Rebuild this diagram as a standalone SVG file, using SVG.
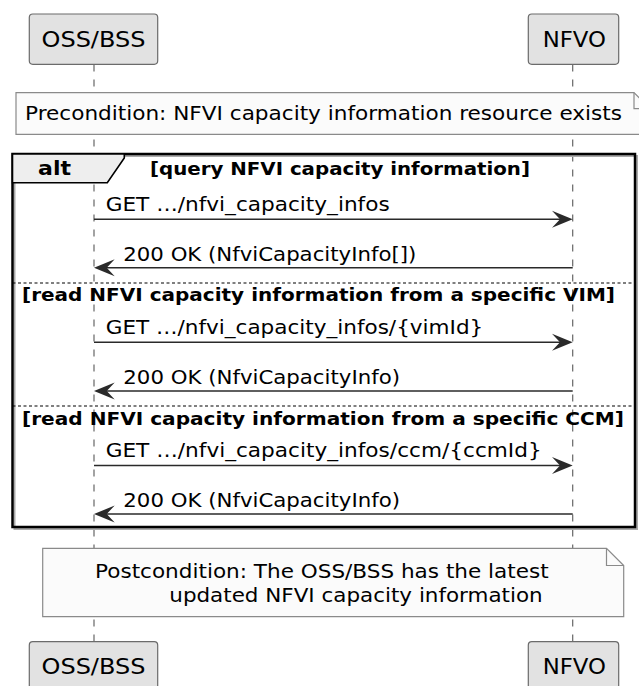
<svg xmlns="http://www.w3.org/2000/svg" width="639" height="686" viewBox="0 0 639 686">
<style>
text{font-family:"DejaVu Sans","Liberation Sans",sans-serif;fill:#000}
.pt{font-size:21.5px;text-anchor:middle}
.m{font-size:20px}
.g{font-size:18px;font-weight:bold}
.part{fill:#E2E2E2;stroke:#6b6b6b;stroke-width:1.2}
.ll{stroke:#666;stroke-width:1.2;stroke-dasharray:7,8;fill:none}
.note{fill:#FBFBFB;stroke:#8a8a8a;stroke-width:1.2}
.fold{fill:none;stroke:#8a8a8a;stroke-width:1.2}
.ln{stroke:#2a2a2a;stroke-width:1.6;fill:none}
.sep{stroke:#000;stroke-width:1.2;stroke-dasharray:3,2.5}
.ah{fill:#2a2a2a}
</style>
<g id="lifelines">
<line class="ll" x1="94" y1="64.5" x2="94" y2="641.5"/>
<line class="ll" x1="572.7" y1="64.5" x2="572.7" y2="641.5"/>
</g>
<g id="participant-oss-top">
<rect class="part" x="29.3" y="14" width="128.4" height="50.3" rx="3.5"/>
<text class="pt" x="93.5" y="46.7" textLength="104" lengthAdjust="spacingAndGlyphs">OSS/BSS</text>
</g>
<g id="participant-nfvo-top">
<rect class="part" x="528.3" y="14" width="90.4" height="50.3" rx="3.5"/>
<text class="pt" x="574.3" y="46.7" textLength="63.3" lengthAdjust="spacingAndGlyphs">NFVO</text>
</g>
<g id="note-precondition">
<path class="note" d="M16,92.7 H634 L650,108.7 V134.3 H16 Z"/>
<path class="fold" d="M634,92.7 V108.7 H650"/>
<text class="m" x="25" y="120" textLength="597" lengthAdjust="spacingAndGlyphs">Precondition: NFVI capacity information resource exists</text>
</g>
<g id="alt-fragment">
<rect x="14.5" y="156" width="622.5" height="373" fill="none" stroke="#aaa" stroke-width="2"/>
<rect x="12.5" y="154" width="622.5" height="373" fill="none" stroke="#000" stroke-width="2.5"/>
<path d="M12.5,154 H124.3 V158 L107.3,182.7 H12.5 Z" fill="#EEEEEE" stroke="#000" stroke-width="1.6"/>
<text class="g" x="38" y="175" textLength="33" lengthAdjust="spacingAndGlyphs" style="font-size:20px">alt</text>
<text class="g" x="150" y="175" textLength="380" lengthAdjust="spacingAndGlyphs">[query NFVI capacity information]</text>
<line class="sep" x1="12.5" y1="283" x2="635" y2="283"/>
<text class="g" x="22" y="301" textLength="593" lengthAdjust="spacingAndGlyphs">[read NFVI capacity information from a specific VIM]</text>
<line class="sep" x1="12.5" y1="406" x2="635" y2="406"/>
<text class="g" x="22" y="425" textLength="602" lengthAdjust="spacingAndGlyphs">[read NFVI capacity information from a specific CCM]</text>
</g>
<g id="messages">
<line class="ln" x1="94" y1="219.3" x2="566" y2="219.3"/>
<polygon class="ah" points="572.7,219.3 552,210.8 560,219.3 552,227.8"/>
<text class="m" x="105.7" y="210.7" textLength="284" lengthAdjust="spacingAndGlyphs">GET …/nfvi_capacity_infos</text>
<line class="ln" x1="572.7" y1="267.7" x2="100" y2="267.7"/>
<polygon class="ah" points="94,267.7 114.7,259.2 106.7,267.7 114.7,276.2"/>
<text class="m" x="123.3" y="260.5" textLength="293" lengthAdjust="spacingAndGlyphs">200 OK (NfviCapacityInfo[])</text>
<line class="ln" x1="94" y1="342.3" x2="566" y2="342.3"/>
<polygon class="ah" points="572.7,342.3 552,333.8 560,342.3 552,350.8"/>
<text class="m" x="105.7" y="333.7" textLength="377.6" lengthAdjust="spacingAndGlyphs">GET …/nfvi_capacity_infos/{vimId}</text>
<line class="ln" x1="572.7" y1="391" x2="100" y2="391"/>
<polygon class="ah" points="94,391 114.7,382.5 106.7,391 114.7,399.5"/>
<text class="m" x="123.3" y="383.8" textLength="276.7" lengthAdjust="spacingAndGlyphs">200 OK (NfviCapacityInfo)</text>
<line class="ln" x1="94" y1="465.5" x2="566" y2="465.5"/>
<polygon class="ah" points="572.7,465.5 552,457 560,465.5 552,474"/>
<text class="m" x="105.7" y="456.9" textLength="436" lengthAdjust="spacingAndGlyphs">GET …/nfvi_capacity_infos/ccm/{ccmId}</text>
<line class="ln" x1="572.7" y1="514" x2="100" y2="514"/>
<polygon class="ah" points="94,514 114.7,505.5 106.7,514 114.7,522.5"/>
<text class="m" x="123.3" y="506.8" textLength="276.7" lengthAdjust="spacingAndGlyphs">200 OK (NfviCapacityInfo)</text>
</g>
<g id="note-postcondition">
<path class="note" d="M42.7,548.3 H606.5 L623.7,565.5 V616.7 H42.7 Z"/>
<path class="fold" d="M606.5,548.3 V565.5 H623.7"/>
<text class="m" x="95" y="578.3" textLength="453.7" lengthAdjust="spacingAndGlyphs">Postcondition: The OSS/BSS has the latest</text>
<text class="m" x="169.3" y="601.7" textLength="373.4" lengthAdjust="spacingAndGlyphs">updated NFVI capacity information</text>
</g>
<g id="participant-oss-bottom">
<rect class="part" x="29.3" y="641.7" width="128.4" height="50.3" rx="3.5"/>
<text class="pt" x="93.5" y="673.5" textLength="104" lengthAdjust="spacingAndGlyphs">OSS/BSS</text>
</g>
<g id="participant-nfvo-bottom">
<rect class="part" x="528.3" y="641.7" width="90.4" height="50.3" rx="3.5"/>
<text class="pt" x="574.3" y="673.5" textLength="63.3" lengthAdjust="spacingAndGlyphs">NFVO</text>
</g>
</svg>
